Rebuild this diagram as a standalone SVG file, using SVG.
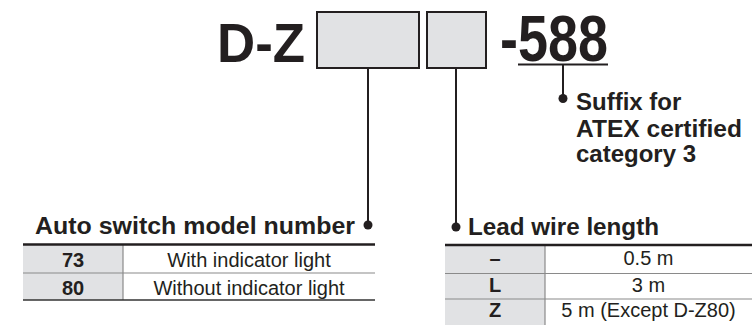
<svg xmlns="http://www.w3.org/2000/svg" width="752" height="325" viewBox="0 0 752 325">
<style>
text{font-family:"Liberation Sans",Arial,Helvetica,sans-serif;fill:#231f20}
.b{font-weight:bold}
.box{fill:#e1e2e4;stroke:#231f20;stroke-width:2}
.cell{fill:#e1e2e4}
.conn{stroke:#231f20;stroke-width:2;fill:none}
.dot{fill:#231f20}
.thick{stroke:#231f20;stroke-width:2.5}
.thin{stroke:#8a8a8a;stroke-width:1.2}
.bot{stroke:#333;stroke-width:1.5}
.t{font-size:20px}
.h{font-size:23.5px;font-weight:bold}
</style>
<rect width="752" height="325" fill="#fff"/>
<g id="title">
<text class="b" x="217" y="62" font-size="56" textLength="88" lengthAdjust="spacingAndGlyphs">D-Z</text>
</g>
<g id="box-model"><rect class="box" x="317" y="12" width="102" height="56"/></g>
<g id="box-lead"><rect class="box" x="427" y="12" width="59" height="56"/></g>
<g id="suffix-code">
<text class="b" x="500" y="61" font-size="64" textLength="108" lengthAdjust="spacingAndGlyphs">-588</text>
<line class="conn" x1="518" y1="64.5" x2="608" y2="64.5"/>
</g>
<g id="connectors">
<line class="conn" x1="368" y1="68" x2="368" y2="225"/>
<circle class="dot" cx="368" cy="225" r="4.5"/>
<line class="conn" x1="456" y1="68" x2="456" y2="227"/>
<circle class="dot" cx="456" cy="227" r="4.5"/>
<line class="conn" x1="563" y1="64" x2="563" y2="98"/>
<circle class="dot" cx="563" cy="98.5" r="4.5"/>
</g>
<g id="suffix-label">
<text class="b" x="576" y="110" font-size="24">Suffix for</text>
<text class="b" x="576" y="136.5" font-size="24" textLength="166" lengthAdjust="spacingAndGlyphs">ATEX certified</text>
<text class="b" x="576" y="162" font-size="24">category 3</text>
</g>
<g id="model-table">
<text class="h" x="355" y="233.5" text-anchor="end" textLength="320" lengthAdjust="spacingAndGlyphs">Auto switch model number</text>
<rect class="cell" x="23" y="245" width="100" height="55"/>
<line class="thin" x1="23" y1="273" x2="375" y2="273"/>
<line class="thin" x1="123" y1="245" x2="123" y2="300"/>
<line class="thick" x1="23" y1="244.5" x2="375" y2="244.5"/>
<line class="bot" x1="23" y1="300" x2="375" y2="300"/>
<text class="t b" x="73" y="267" text-anchor="middle">73</text>
<text class="t b" x="73" y="295" text-anchor="middle">80</text>
<text class="t" x="249" y="267" text-anchor="middle">With indicator light</text>
<text class="t" x="249" y="295" text-anchor="middle">Without indicator light</text>
</g>
<g id="lead-table">
<text class="h" x="468" y="235" textLength="191" lengthAdjust="spacingAndGlyphs">Lead wire length</text>
<rect class="cell" x="445" y="245" width="100" height="80"/>
<line class="thin" x1="445" y1="273.5" x2="752" y2="273.5"/>
<line class="thin" x1="445" y1="299" x2="752" y2="299"/>
<line class="thin" x1="545" y1="245" x2="545" y2="325"/>
<line class="thick" x1="445" y1="245" x2="752" y2="245"/>
<text class="t b" x="495" y="265" text-anchor="middle">–</text>
<text class="t b" x="495" y="292" text-anchor="middle">L</text>
<text class="t b" x="495" y="317" text-anchor="middle">Z</text>
<text class="t" x="648.5" y="265" text-anchor="middle">0.5 m</text>
<text class="t" x="648.5" y="292" text-anchor="middle">3 m</text>
<text class="t" x="648.5" y="317" text-anchor="middle">5 m (Except D-Z80)</text>
</g>
</svg>
